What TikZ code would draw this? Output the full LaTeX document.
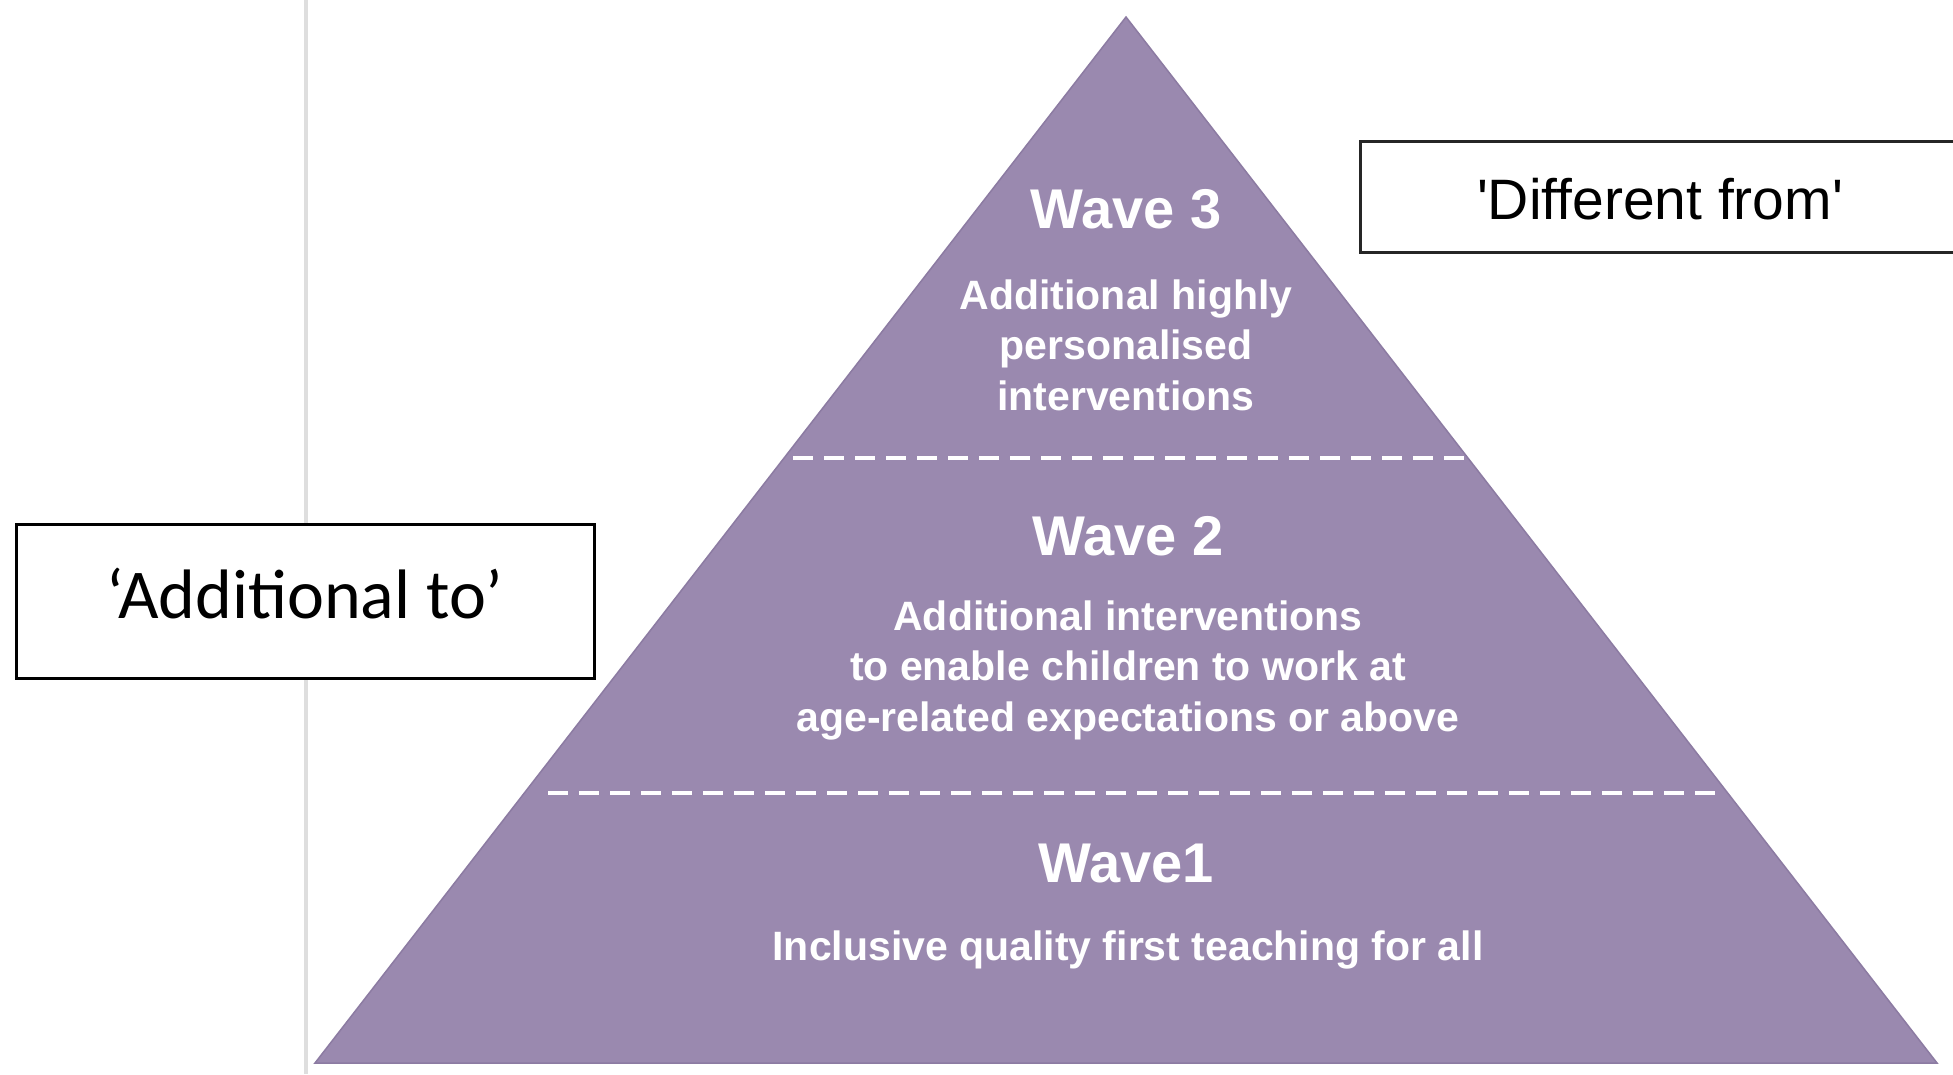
\documentclass[tikz,border=0pt]{standalone}
\usepackage{fontspec}
\setmainfont{Liberation Sans}
\newfontfamily\calibrifont{Carlito}
\newfontfamily\plainsans[Ligatures=TeXOff]{Liberation Sans}
\definecolor{pyr}{HTML}{9A89AF}
\definecolor{pyredge}{HTML}{8C7BA2}
\tikzset{
  wavetitle/.style={text=white, font=\bfseries\fontsize{56}{60}\selectfont, anchor=center, inner sep=0pt},
  wavetext/.style={text=white, font=\bfseries\fontsize{41}{50.5}\selectfont, align=center, anchor=center, inner sep=0pt},
  divider/.style={white, line width=3.5pt, dash pattern=on 20pt off 11pt},
  labelbox/.style={draw=black!85, line width=3pt, fill=white, anchor=center, inner sep=0pt}
}
\begin{document}
\begin{tikzpicture}[x=1pt,y=-1pt]
\path[use as bounding box, clip] (0,0) rectangle (1953,1074);
\fill[white] (0,0) rectangle (1953,1074);
% faint vertical rule
\draw[black!13, line width=4pt] (306,0) -- (306,1074);
% pyramid
\coordinate (apex) at (1126,17);
\coordinate (bl) at (315,1063);
\coordinate (br) at (1937,1063);
\fill[pyr] (apex) -- (br) -- (bl) -- cycle;
\draw[pyredge, line width=1.5pt, line join=miter] (apex) -- (br) -- (bl) -- cycle;
% dividers
\coordinate (d1l) at (793,458);
\coordinate (d1r) at (1470,458);
\coordinate (d2l) at (548,793);
\coordinate (d2r) at (1725,793);
\draw[divider] (d1l) -- (d1r);
\draw[divider] (d2l) -- (d2r);
% texts
\node[wavetitle] (w3) at (1126,209) {Wave 3};
\node[wavetext] (w3t) at (1126,345) {Additional highly\\personalised\\interventions};
\node[wavetitle] (w2) at (1128,536) {Wave 2};
\node[wavetext] (w2t) at (1128,670) {Additional interventions\\to enable children to work at\\age-related expectations or above};
\node[wavetitle] (w1) at (1126,863) {Wave1};
\node[wavetext] (w1t) at (1128,950) {Inclusive quality first teaching for all};
% side boxes
\node[labelbox, minimum width=600pt, minimum height=111pt] (diff) at (1660,196.5) {};
\node[font=\plainsans\fontsize{57}{60}\selectfont, anchor=center, inner sep=0pt] (difft) at (1660,199) {'Different from'};
\node[labelbox, draw=black, minimum width=578pt, minimum height=154pt] (add) at (305,601) {};
\node[font=\calibrifont\fontsize{70}{74}\selectfont, anchor=center, inner sep=0pt] (addt) at (305,594) {‘Additional to’};
\end{tikzpicture}
\end{document}
